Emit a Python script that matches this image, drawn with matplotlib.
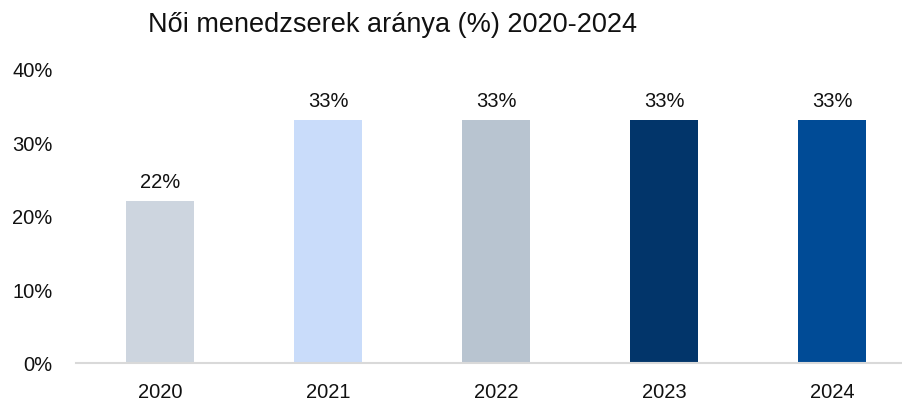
import matplotlib
matplotlib.use("Agg")
import matplotlib.pyplot as plt
from matplotlib.ticker import FuncFormatter

years = ["2020", "2021", "2022", "2023", "2024"]
values = [22, 33, 33, 33, 33]
colors = ["#CDD5DF", "#C9DCFA", "#B8C4D0", "#02356A", "#004B96"]
title = "Női menedzserek aránya (%) 2020-2024"

plt.rcParams['font.family'] = ['Liberation Sans', 'DejaVu Sans']

fig = plt.figure(figsize=(9.02, 4.02), dpi=100)
ax = fig.add_axes([76/902, 1-364/402, (916-76)/902, (364-69.5)/402])
x = range(len(years))
ax.bar(x, values, width=0.4, color=colors)
for xi, v in zip(x, values):
    ax.text(xi, v + 1.4, f"{v}%", ha="center", va="bottom", fontsize=14.5, color="#111111")

ax.set_xlim(-0.5, 4.5)
ax.set_ylim(0, 40)
ax.set_yticks([0, 10, 20, 30, 40])
ax.yaxis.set_major_formatter(FuncFormatter(lambda v, p: f"{int(v)}%"))
ax.set_xticks(list(x))
ax.set_xticklabels(years)
ax.tick_params(axis="both", length=0, labelsize=14.5, colors="#111111")
ax.tick_params(axis="y", pad=17)
ax.tick_params(axis="x", pad=14)
for s in ["top", "right", "left"]:
    ax.spines[s].set_visible(False)
ax.spines["bottom"].set_color("#D9D9D9")
ax.spines["bottom"].set_linewidth(1.5)

fig.text(393/902, 1-25/402, title, ha="center", va="center", fontsize=19.5,
         color="#111111")

fig.savefig("out.png", dpi=100)
